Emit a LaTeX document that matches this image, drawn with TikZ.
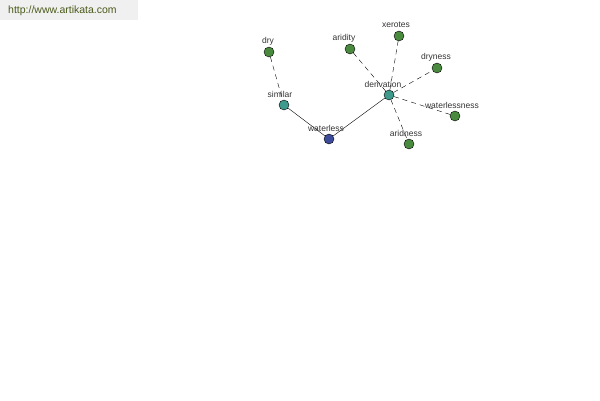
\documentclass[tikz,border=0pt]{standalone}
\usepackage{fontspec}
\setmainfont{Liberation Sans}
\usetikzlibrary{positioning}
\definecolor{Gn}{HTML}{4A8A3F}
\definecolor{Tl}{HTML}{3D9A8C}
\definecolor{Bl}{HTML}{3C4B9A}
\definecolor{hdr}{HTML}{F0F0F0}
\definecolor{url}{HTML}{4A5A1A}
\tikzset{
  leaf/.style={circle, draw=black, fill=Gn, inner sep=0pt, minimum size=10pt},
  hub/.style={circle, draw=black, fill=Tl, inner sep=0pt, minimum size=10pt},
  root/.style={circle, draw=black, fill=Bl, inner sep=0pt, minimum size=10pt},
  lbl/.style={font=\fontsize{8.5}{9}\selectfont, text=black!80, inner sep=0pt},
  rel/.style={black, thin},
  syn/.style={black, thin, dash pattern=on 5pt off 4pt},
}
\begin{document}
\begin{tikzpicture}[x=1pt, y=-1pt]
  \useasboundingbox (0,0) rectangle (600,400);
  \fill[hdr] (0,0) rectangle (138,20);
  \node[font=\fontsize{10.5}{11}\selectfont, text=url, anchor=west, inner sep=0pt] (site) at (8,11) {http://www.artikata.com};
  % nodes
  \node[root] (waterless) at (329,139) {};
  \node[hub] (similar) at (284,105) {};
  \node[hub] (derivation) at (389,95) {};
  \node[leaf] (dry) at (269,52) {};
  \node[leaf] (aridity) at (350,49) {};
  \node[leaf] (xerotes) at (399,36) {};
  \node[leaf] (dryness) at (437,68) {};
  \node[leaf] (waterlessness) at (455,116) {};
  \node[leaf] (aridness) at (409,144) {};
  % edges
  \draw[rel] (similar) -- (waterless);
  \draw[rel] (waterless) -- (derivation);
  \draw[syn] (dry) -- (similar);
  \foreach \n in {aridity,xerotes,dryness,waterlessness,aridness}
    \draw[syn] (derivation) -- (\n);
  % labels
  \node[lbl] (t1) at (268,41) {dry};
  \node[lbl] (t2) at (280,94) {similar};
  \node[lbl] (t3) at (326,128) {waterless};
  \node[lbl] (t4) at (383,84) {derivation};
  \node[lbl] (t5) at (344,38) {aridity};
  \node[lbl] (t6) at (396,25) {xerotes};
  \node[lbl] (t7) at (436,57) {dryness};
  \node[lbl] (t8) at (452,105) {waterlessness};
  \node[lbl] (t9) at (406,133) {aridness};
\end{tikzpicture}
\end{document}
